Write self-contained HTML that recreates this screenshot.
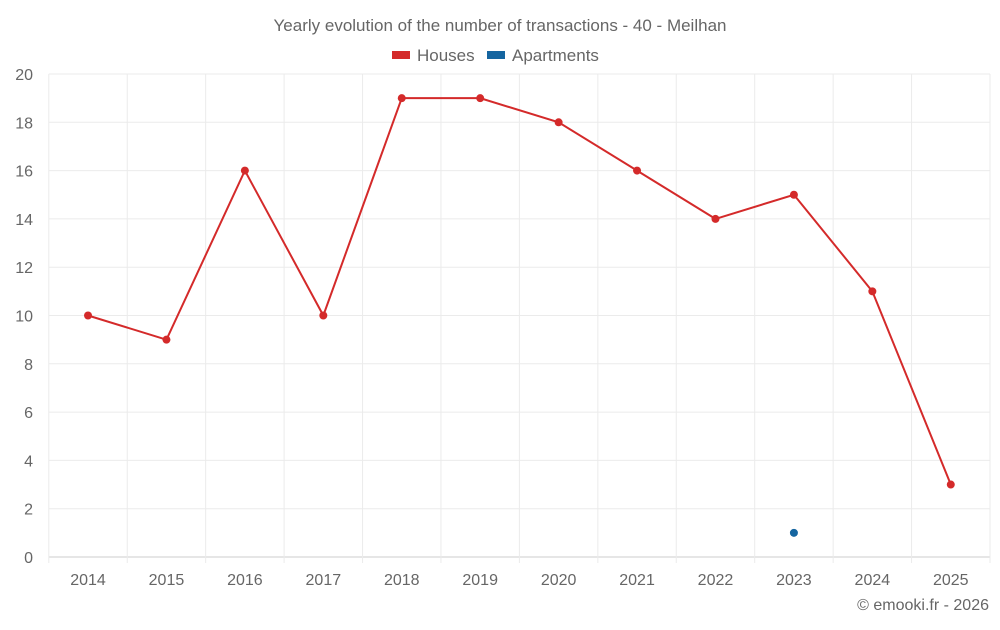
<!DOCTYPE html>
<html><head><meta charset="utf-8"><style>
body{margin:0;background:#fff;font-family:"Liberation Sans",sans-serif;}
svg text{font-family:"Liberation Sans",sans-serif;fill:#666;}
</style></head><body>
<svg id="chart" width="1000" height="625">
<text x="500" y="31" text-anchor="middle" font-size="17">Yearly evolution of the number of transactions - 40 - Meilhan</text>
<g>
<rect x="392" y="51" width="18" height="8" fill="#d42a2a"/>
<text x="417" y="61" font-size="17">Houses</text>
<rect x="487" y="51" width="18" height="8" fill="#1565a0"/>
<text x="512" y="61" font-size="17">Apartments</text>
</g>
<g id="grid"></g><g id="axes"></g><g id="series"></g>
<text x="989" y="610" text-anchor="end" font-size="16">© emooki.fr - 2026</text>
</svg>
<script>
const categories=["2014","2015","2016","2017","2018","2019","2020","2021","2022","2023","2024","2025"];
const houses=[10,9,16,10,19,19,18,16,14,15,11,3];
const apartments=[null,null,null,null,null,null,null,null,null,1,null,null];
const yTicks=[0,2,4,6,8,10,12,14,16,18,20];
const NS="http://www.w3.org/2000/svg";
const L=48.8,R=990,T=74,B=557,yMax=20;
const bw=(R-L)/categories.length;
const x=i=>L+bw*(i+0.5);
const y=v=>B-(v/yMax)*(B-T);
function mk(tag,attrs,parent){const e=document.createElementNS(NS,tag);for(const k in attrs)e.setAttribute(k,attrs[k]);document.getElementById(parent).appendChild(e);return e;}
yTicks.forEach(v=>{
 const g=mk("line",{x1:L,x2:R,y1:y(v),y2:y(v),stroke:v===0?"#ccc":"#ebebeb","stroke-width":1},"grid");
 
 
 const t=mk("text",{x:33,y:y(v)+6,"text-anchor":"end","font-size":16},"axes");t.textContent=v;
 
 
});
for(let i=0;i<=categories.length;i++){
 const g=mk("line",{x1:L+bw*i,x2:L+bw*i,y1:T,y2:B+6,stroke:"#ebebeb","stroke-width":1},"grid");
 
 
}
categories.forEach((c,i)=>{
 const t=mk("text",{x:x(i),y:585,"text-anchor":"middle","font-size":16},"axes");t.textContent=c;
 
 
});
const pts=houses.map((v,i)=>v==null?null:x(i)+","+y(v)).filter(Boolean).join(" ");
const pl=mk("polyline",{points:pts,fill:"none",stroke:"#d42a2a","stroke-width":2},"series");


houses.forEach((v,i)=>{if(v==null)return;
 const c=mk("circle",{cx:x(i),cy:y(v),r:4,fill:"#d42a2a"},"series");
 
 
});
apartments.forEach((v,i)=>{if(v==null)return;
 const c=mk("circle",{cx:x(i),cy:y(v),r:4,fill:"#1565a0"},"series");
 
 
});
</script>
</body></html>
